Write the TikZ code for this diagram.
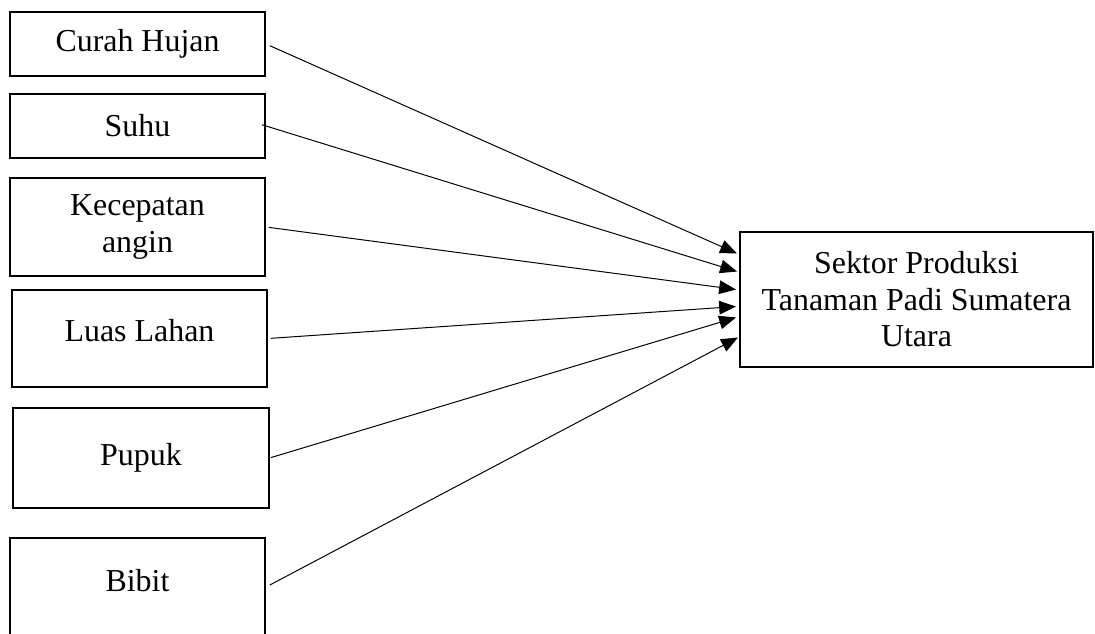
\documentclass[tikz,border=0pt]{standalone}
\usepackage{fontspec}
\setmainfont{Liberation Serif}
\usetikzlibrary{arrows.meta,calc}
\begin{document}
\begin{tikzpicture}[x=0.025cm,y=-0.025cm, every node/.style={font=\fontsize{22.7}{26}\selectfont},
faktor/.style={draw,line width=1.4pt,minimum width=6.375cm,inner sep=0,align=center},
panah/.style={-{Triangle[length=0.42cm,width=0.34cm]},line width=0.7pt}]

\clip (0,0) rectangle (1095,633);

\node [faktor,minimum height=1.6cm] (curah) at (137.5,44) {Curah Hujan};

\node [faktor,minimum height=1.6cm] (suhu) at (137.5,126) {Suhu};

\node [faktor,minimum height=2.45cm] (angin) at (137.5,227) {Kecepatan\\angin};

\node [faktor,minimum height=2.425cm,text depth=12pt] (lahan) at (139.5,338.5) {Luas Lahan};

\node [faktor,minimum height=2.5cm] (pupuk) at (141,458) {Pupuk};

\node [faktor,minimum height=2.45cm,text depth=10pt] (bibit) at (137.5,587) {Bibit};

\node [faktor,minimum width=8.825cm,minimum height=3.375cm] (padi) at (916.5,299.5) {Sektor Produksi\\Tanaman Padi Sumatera\\Utara};

\draw [panah,shorten <=3pt] (curah.east) -- ($(padi.west)+(-2,-46)$);

\draw [panah,shorten <=-3pt] (suhu.east) -- ($(padi.west)+(-2,-28)$);

\draw [panah,shorten <=2pt] (angin.east) -- ($(padi.west)+(-3,-10)$);

\draw [panah,shorten <=2pt] (lahan.east) -- ($(padi.west)+(-3,7)$);

\draw [panah,shorten <=1pt] (pupuk.east) -- ($(padi.west)+(-3,18)$);

\draw [panah,shorten <=3pt] (bibit.east) -- ($(padi.west)+(-1,38)$);

\end{tikzpicture}
\end{document}
